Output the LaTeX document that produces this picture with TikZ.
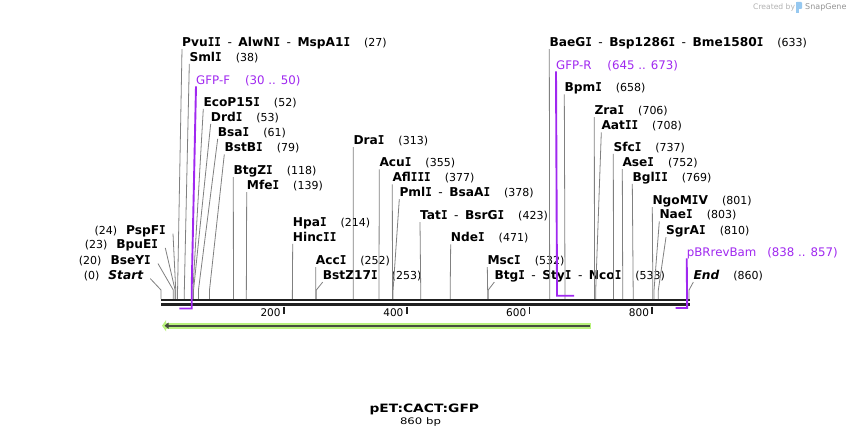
\documentclass[tikz,border=0pt]{standalone}
\usepackage{fontspec}
\setmainfont{DejaVu Sans}
\newfontfamily\serifI{DejaVu Sans Mono}[FakeStretch=0.9]
\usetikzlibrary{arrows.meta}
\definecolor{primer}{RGB}{160,40,240}
\definecolor{featgreen}{RGB}{185,242,125}
\definecolor{featline}{RGB}{70,78,62}
\definecolor{leadgray}{RGB}{128,128,128}
\definecolor{logoblue}{RGB}{150,200,240}
% capital I with serifs, as in the enzyme names
\newcommand{\sI}{{\serifI I}}
\newcommand{\cutsep}{\hspace{6.5pt}{\mdseries -}\hspace{6.5pt}}
\newcommand{\cutpos}[1]{\hspace{14pt}{\mdseries\fontsize{11}{13}\selectfont(#1)}}
\newcommand{\cutnum}[1]{{\mdseries\fontsize{11}{13}\selectfont(#1)}\hspace{9pt}}
\begin{document}
\begin{tikzpicture}[
    x=1pt, y=-1pt,
    enz/.style={font=\bfseries\fontsize{12.2}{14}\selectfont, inner sep=0pt, anchor=base west},
    enz left/.style={enz, anchor=base east},
    primer label/.style={font=\fontsize{11.8}{14}\selectfont, text=primer, inner sep=0pt, anchor=base west},
    leader/.style={draw=leadgray, line width=0.8pt},
    primer line/.style={draw=primer, line width=1.9pt},
    backbone/.style={draw=black!87, line width=2.4pt},
    tickmark/.style={draw=black!87, line width=1.8pt},
    ticklabel/.style={font=\fontsize{10.5}{12}\selectfont, inner sep=0pt, anchor=base east},
  ]
  \fill[white] (0,0) rectangle (851,438);
  \useasboundingbox (0,0) rectangle (851,438);

  % cut sites labelled above, leader from the left end of the label
  \foreach \name/\x/\y/\pos/\txt in {
      pvu/182/46.6/27/{Pvu\sI\sI\cutsep AlwN\sI\cutsep MspA1\sI\cutpos{27}},
      sml/189.3/61.3/38/{Sml\sI\cutpos{38}},
      ecop/203.3/106.3/52/{EcoP15\sI\cutpos{52}},
      drd/210.7/121.3/53/{Drd\sI\cutpos{53}},
      bsa/217.7/136.3/61/{Bsa\sI\cutpos{61}},
      bstb/224.3/151.9/79/{BstB\sI\cutpos{79}},
      btgz/233.3/174.6/118/{BtgZ\sI\cutpos{118}},
      mfe/246.7/189.6/139/{Mfe\sI\cutpos{139}},
      acc/315.7/264.6/252/{Acc\sI\cutpos{252}},
      bstz/322.7/279.6/253/{BstZ17\sI\cutpos{253}},
      dra/353.3/144.6/313/{Dra\sI\cutpos{313}},
      acu/379.3/166.9/355/{Acu\sI\cutpos{355}},
      afl/392.3/181.9/377/{Afl\sI\sI\sI\cutpos{377}},
      pml/399.3/196.6/378/{Pml\sI\cutsep BsaA\sI\cutpos{378}},
      tat/420/219.6/423/{Tat\sI\cutsep BsrG\sI\cutpos{423}},
      nde/450.7/241.9/471/{Nde\sI\cutpos{471}},
      msc/487.3/264.6/532/{Msc\sI\cutpos{532}},
      btg/494.3/279.6/533/{Btg\sI\cutsep Sty\sI\cutsep Nco\sI\cutpos{533}},
      bae/549.3/46.6/633/{BaeG\sI\cutsep Bsp1286\sI\cutsep Bme1580\sI\cutpos{633}},
      bpm/564.3/91.9/658/{Bpm\sI\cutpos{658}},
      zra/594.3/114.6/706/{Zra\sI\cutpos{706}},
      aat/601.3/129.9/708/{Aat\sI\sI\cutpos{708}},
      sfc/613.3/151.3/737/{Sfc\sI\cutpos{737}},
      ase/622.3/166.6/752/{Ase\sI\cutpos{752}},
      bgl/632.3/181.3/769/{Bgl\sI\sI\cutpos{769}},
      ngo/652.3/204.6/801/{NgoM\sI V\cutpos{801}},
      nae/659.3/218.9/803/{Nae\sI\cutpos{803}},
      sgr/666/234.6/810/{SgrA\sI\cutpos{810}},
      endmark/693.3/279.6/860/{{\itshape End}\cutpos{860}}}
  {
    \node[enz] (\name) at (\x,\y) {\txt};
    \coordinate (\name-site) at ({161+\pos*0.614},299);
    \draw[leader] ([yshift=-2.5pt]\name.base west) -- ([yshift=9pt]\name-site) -- (\name-site);
  }
  % HpaI and HincII share one leader
  \node[enz] (hpa) at (292.7,226.3) {Hpa\sI\cutpos{214}};
  \node[enz] (hinc) at (292.7,241.3) {Hinc\sI\sI};
  \coordinate (hinc-site) at ({161+214*0.614},299);
  \draw[leader] ([yshift=-2.5pt]hinc.base west) -- ([yshift=9pt]hinc-site) -- (hinc-site);

  % cut sites labelled on the left, leader from the right end
  \foreach \name/\x/\y/\pos/\txt in {
      startmark/143.3/279.6/0/{\cutnum{0}\itshape Start},
      bseyi/151/264.6/20/{\cutnum{20}BseY\sI},
      bpuei/158.3/248.9/23/{\cutnum{23}BpuE\sI},
      pspfi/166/234.6/24/{\cutnum{24}PspF\sI}}
  {
    \node[enz left] (\name) at (\x,\y) {\txt};
    \coordinate (\name-site) at ({161+\pos*0.614},299);
    \draw[leader] ([xshift=7pt,yshift=1pt]\name.base east) -- ([yshift=9pt]\name-site) -- (\name-site);
  }

  % backbone
  \coordinate (bb-left) at (161,299.8);
  \coordinate (bb-right) at (690,299.8);
  \draw[backbone] (bb-left) -- (bb-right);
  \draw[backbone] ([yshift=-4.7pt]bb-left) -- ([yshift=-4.7pt]bb-right);

  % primers
  \node[primer label] (gfpf) at (196,84.3) {GFP-F\hspace{15pt}(30 .. 50)};
  \coordinate (gfpf-3) at ({161+50*0.614},308.5);
  \coordinate (gfpf-5) at ({161+30*0.614},308.5);
  \draw[primer line] ([yshift=-2pt]gfpf.base west) -- ([yshift=20pt]gfpf-3) -- (gfpf-3) -- (gfpf-5);
  \node[primer label] (gfpr) at (556,69.3) {GFP-R\hspace{16pt}(645 .. 673)};
  \coordinate (gfpr-5) at ({161+645*0.614},295.7);
  \coordinate (gfpr-3) at ({161+673*0.614},295.7);
  \draw[primer line] ([yshift=-2pt]gfpr.base west) -- (gfpr-5) -- (gfpr-3);
  \node[primer label] (pbr) at (686.7,256.3) {pBRrevBam\hspace{11pt}(838 .. 857)};
  \coordinate (pbr-3) at ({161+857*0.614},308);
  \coordinate (pbr-5) at ({161+838*0.614},308);
  \draw[primer line] ([yshift=-2pt]pbr.base west) -- (pbr-3) -- (pbr-5);

  % scale
  \foreach \pos in {200,400,600,800} {
    \coordinate (t\pos) at ({161+\pos*0.614},306.5);
    \draw[tickmark] (t\pos) -- ++(0,7);
    \node[ticklabel] (tl\pos) at ([xshift=-3pt,yshift=-10.2pt]t\pos) {\pos};
  }

  % feature arrow
  \coordinate (cds-right) at (591,325.7);
  \coordinate (cds-left) at (162,325.7);
  \draw[featgreen, line width=6pt, -{Triangle[length=4pt,width=11pt]}] (cds-right) -- (cds-left);
  \draw[featline, line width=2.3pt, -{Triangle[length=4pt,width=6pt]}] ([xshift=-1.5pt]cds-right) -- ([xshift=2.5pt]cds-left);

  % title
  \node[font=\bfseries\fontsize{11.5}{13}\selectfont\addfontfeature{FakeStretch=1.2}, inner sep=0pt, anchor=base] (title) at (424.3,412.3) {pET:CACT:GFP};
  \node[font=\fontsize{9}{11}\selectfont\addfontfeature{FakeStretch=1.3}, inner sep=0pt, anchor=base] (size) at (420.5,424.3) {860 bp};

  % credit
  \node[font=\fontsize{7.6}{9}\selectfont, text=black!30, anchor=west, inner sep=0pt] (credit) at (753,7.5) {Created by};
  \fill[logoblue, rounded corners=1pt] (796,2) rectangle (802,9);
  \fill[logoblue] (796,2) rectangle (798.5,13);
  \node[font=\fontsize{8}{9}\selectfont, text=black!42, anchor=west, inner sep=0pt] (brand) at (805,7.5) {SnapGene};
\end{tikzpicture}
\end{document}
